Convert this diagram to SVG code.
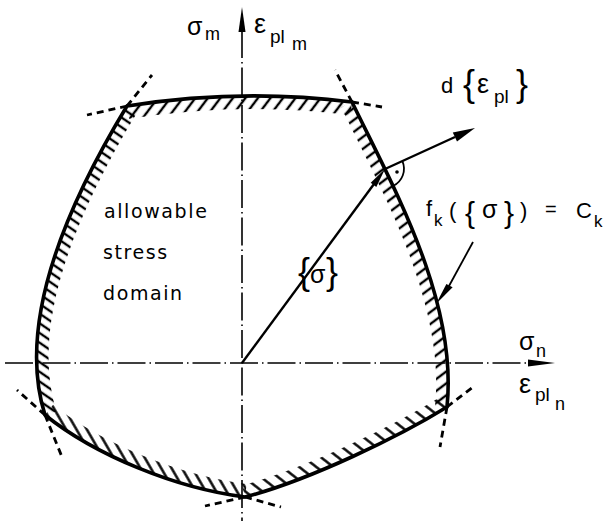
<svg xmlns="http://www.w3.org/2000/svg" width="606" height="521" viewBox="0 0 606 521">
<style>
text{font-family:"Liberation Sans",Arial,sans-serif;fill:#000}
.ax{stroke:#000;stroke-width:1.6;fill:none;stroke-dasharray:28 4 1.5 4}
.bd{stroke:#000;stroke-width:3.6;fill:none;stroke-linejoin:round}
.tg{stroke:#000;stroke-width:2.8;fill:none;stroke-dasharray:7 5}
.vec{stroke:#000;stroke-width:2.4;fill:none}
.hl{stroke:#000;stroke-width:2.4}
.lbl{font-family:"DejaVu Sans","Liberation Sans",sans-serif;font-size:19px;letter-spacing:1.6px}
</style>
<defs>
<pattern id="hTop" patternUnits="userSpaceOnUse" width="10" height="10" patternTransform="rotate(37)"><rect x="3.8" y="-1" width="2.4" height="12" fill="#000"/></pattern>
<pattern id="hLeft" patternUnits="userSpaceOnUse" width="8" height="8" patternTransform="rotate(-55.5)"><rect x="2.8" y="-1" width="2.4" height="10" fill="#000"/></pattern>
<pattern id="hRight" patternUnits="userSpaceOnUse" width="9.5" height="9.5" patternTransform="rotate(53)"><rect x="3.55" y="-1" width="2.4" height="11.5" fill="#000"/></pattern>
<pattern id="hBotL" patternUnits="userSpaceOnUse" width="9" height="9" patternTransform="rotate(-30)"><rect x="3.3" y="-1" width="2.4" height="11" fill="#000"/></pattern>
<pattern id="hBotR" patternUnits="userSpaceOnUse" width="10.5" height="10.5" patternTransform="rotate(-52)"><rect x="4.05" y="-1" width="2.4" height="12.5" fill="#000"/></pattern>
<clipPath id="inside"><path d="M127,106 Q240,88 352,102 C392,185 458,300 447,407 C400,436 310,480 245,497 C175,488 95,455 45,415 C15,320 70,200 127,106 Z"/></clipPath>
</defs>

<g id="axes">
<line class="ax" x1="242" y1="30" x2="242" y2="521"/>
<polygon points="242,7 238.5,32 245.5,32" fill="#000"/>
<line class="ax" x1="5" y1="363" x2="530" y2="363"/>
<polygon points="555,363 528,359.5 528,366.5" fill="#000"/>
</g>

<g id="hatching" clip-path="url(#inside)">
<path d="M127,106 Q240,88 352,102" stroke="url(#hTop)" stroke-width="26" fill="none"/>
<path d="M352,102 C392,185 458,300 447,407" stroke="url(#hRight)" stroke-width="24" fill="none"/>
<path d="M447,407 C400,436 310,480 245,497" stroke="url(#hBotR)" stroke-width="24" fill="none"/>
<path d="M245,497 C175,488 95,455 45,415" stroke="url(#hBotL)" stroke-width="26" fill="none"/>
<path d="M45,415 C15,320 70,200 127,106" stroke="url(#hLeft)" stroke-width="24" fill="none"/>
</g>

<g id="boundary">
<path class="bd" d="M127,106 Q240,88 352,102 C392,185 458,300 447,407 C400,436 310,480 245,497 C175,488 95,455 45,415 C15,320 70,200 127,106 Z"/>
</g>

<g id="tangents">
<line class="tg" x1="127" y1="106" x2="87" y2="115"/>
<line class="tg" x1="127" y1="106" x2="152" y2="75"/>
<line class="tg" x1="352" y1="102" x2="335" y2="70"/>
<line class="tg" x1="352" y1="102" x2="382" y2="107"/>
<line class="tg" x1="447" y1="407" x2="473" y2="387"/>
<line class="tg" x1="447" y1="407" x2="440" y2="447"/>
<line class="tg" x1="245" y1="497" x2="205" y2="506"/>
<line class="tg" x1="245" y1="497" x2="281" y2="507"/>
<line class="tg" x1="45" y1="415" x2="17" y2="390"/>
<line class="tg" x1="45" y1="415" x2="62" y2="457"/>
</g>

<g id="connectors">
<g id="stress-vector">
<line class="vec" x1="242" y1="363" x2="374" y2="184"/>
<polygon points="385,169 376.3,187 370.7,182.8" fill="#000"/>
</g>
<g id="strain-vector">
<line class="vec" x1="385" y1="169" x2="455" y2="137"/>
<polygon points="475,128 457,141.6 452.8,132.4" fill="#000"/>
</g>
<g id="right-angle">
<path d="M402.4,161.2 A19,19 0 0 1 393,186" stroke="#000" stroke-width="1.8" fill="none"/>
<circle cx="397" cy="172" r="1.8" fill="#000"/>
</g>
<g id="leader">
<line stroke="#000" stroke-width="1.8" x1="473" y1="242" x2="449" y2="286"/>
<polygon points="436,304 452.6,287.3 446.4,283.9" fill="#000"/>
</g>
</g>

<g id="label-sigma-m">
<text x="187" y="35" font-size="25">σ</text>
<text x="205" y="40" font-size="18">m</text>
</g>
<g id="label-eps-m">
<text x="254" y="33" font-size="27">ε</text>
<text x="270" y="43" font-size="19">pl</text>
<text x="292" y="50" font-size="18">m</text>
</g>
<g id="label-d-eps">
<text x="441" y="93" font-size="22">d</text>
<text x="463" y="96" font-size="36">{</text>
<text x="477" y="93" font-size="27">ε</text>
<text x="494" y="103" font-size="19">pl</text>
<text x="516" y="96" font-size="36">}</text>
</g>
<g id="label-fk">
<text x="426" y="216" font-size="22">f</text>
<text x="434" y="226" font-size="17">k</text>
<text x="449" y="218" font-size="22">(</text>
<text x="465" y="223" font-size="30">{</text>
<text x="482" y="218" font-size="25">σ</text>
<text x="504" y="223" font-size="30">}</text>
<text x="520" y="218" font-size="22">)</text>
<text x="545" y="216" font-size="20">=</text>
<text x="576" y="218" font-size="22">C</text>
<text x="594" y="227" font-size="17">k</text>
</g>
<g id="label-sigma-vec">
<text x="298" y="284" font-size="36">{</text>
<text x="310" y="283" font-size="25">σ</text>
<text x="326" y="284" font-size="36">}</text>
</g>
<g id="label-sigma-n">
<text x="519" y="350" font-size="25">σ</text>
<text x="536" y="357" font-size="18">n</text>
</g>
<g id="label-eps-n">
<text x="519" y="393" font-size="27">ε</text>
<text x="535" y="401" font-size="19">pl</text>
<text x="555" y="410" font-size="18">n</text>
</g>
<g id="label-domain">
<text class="lbl" x="104" y="218">allowable</text>
<text class="lbl" x="103" y="259">stress</text>
<text class="lbl" x="103" y="300">domain</text>
</g>
</svg>
